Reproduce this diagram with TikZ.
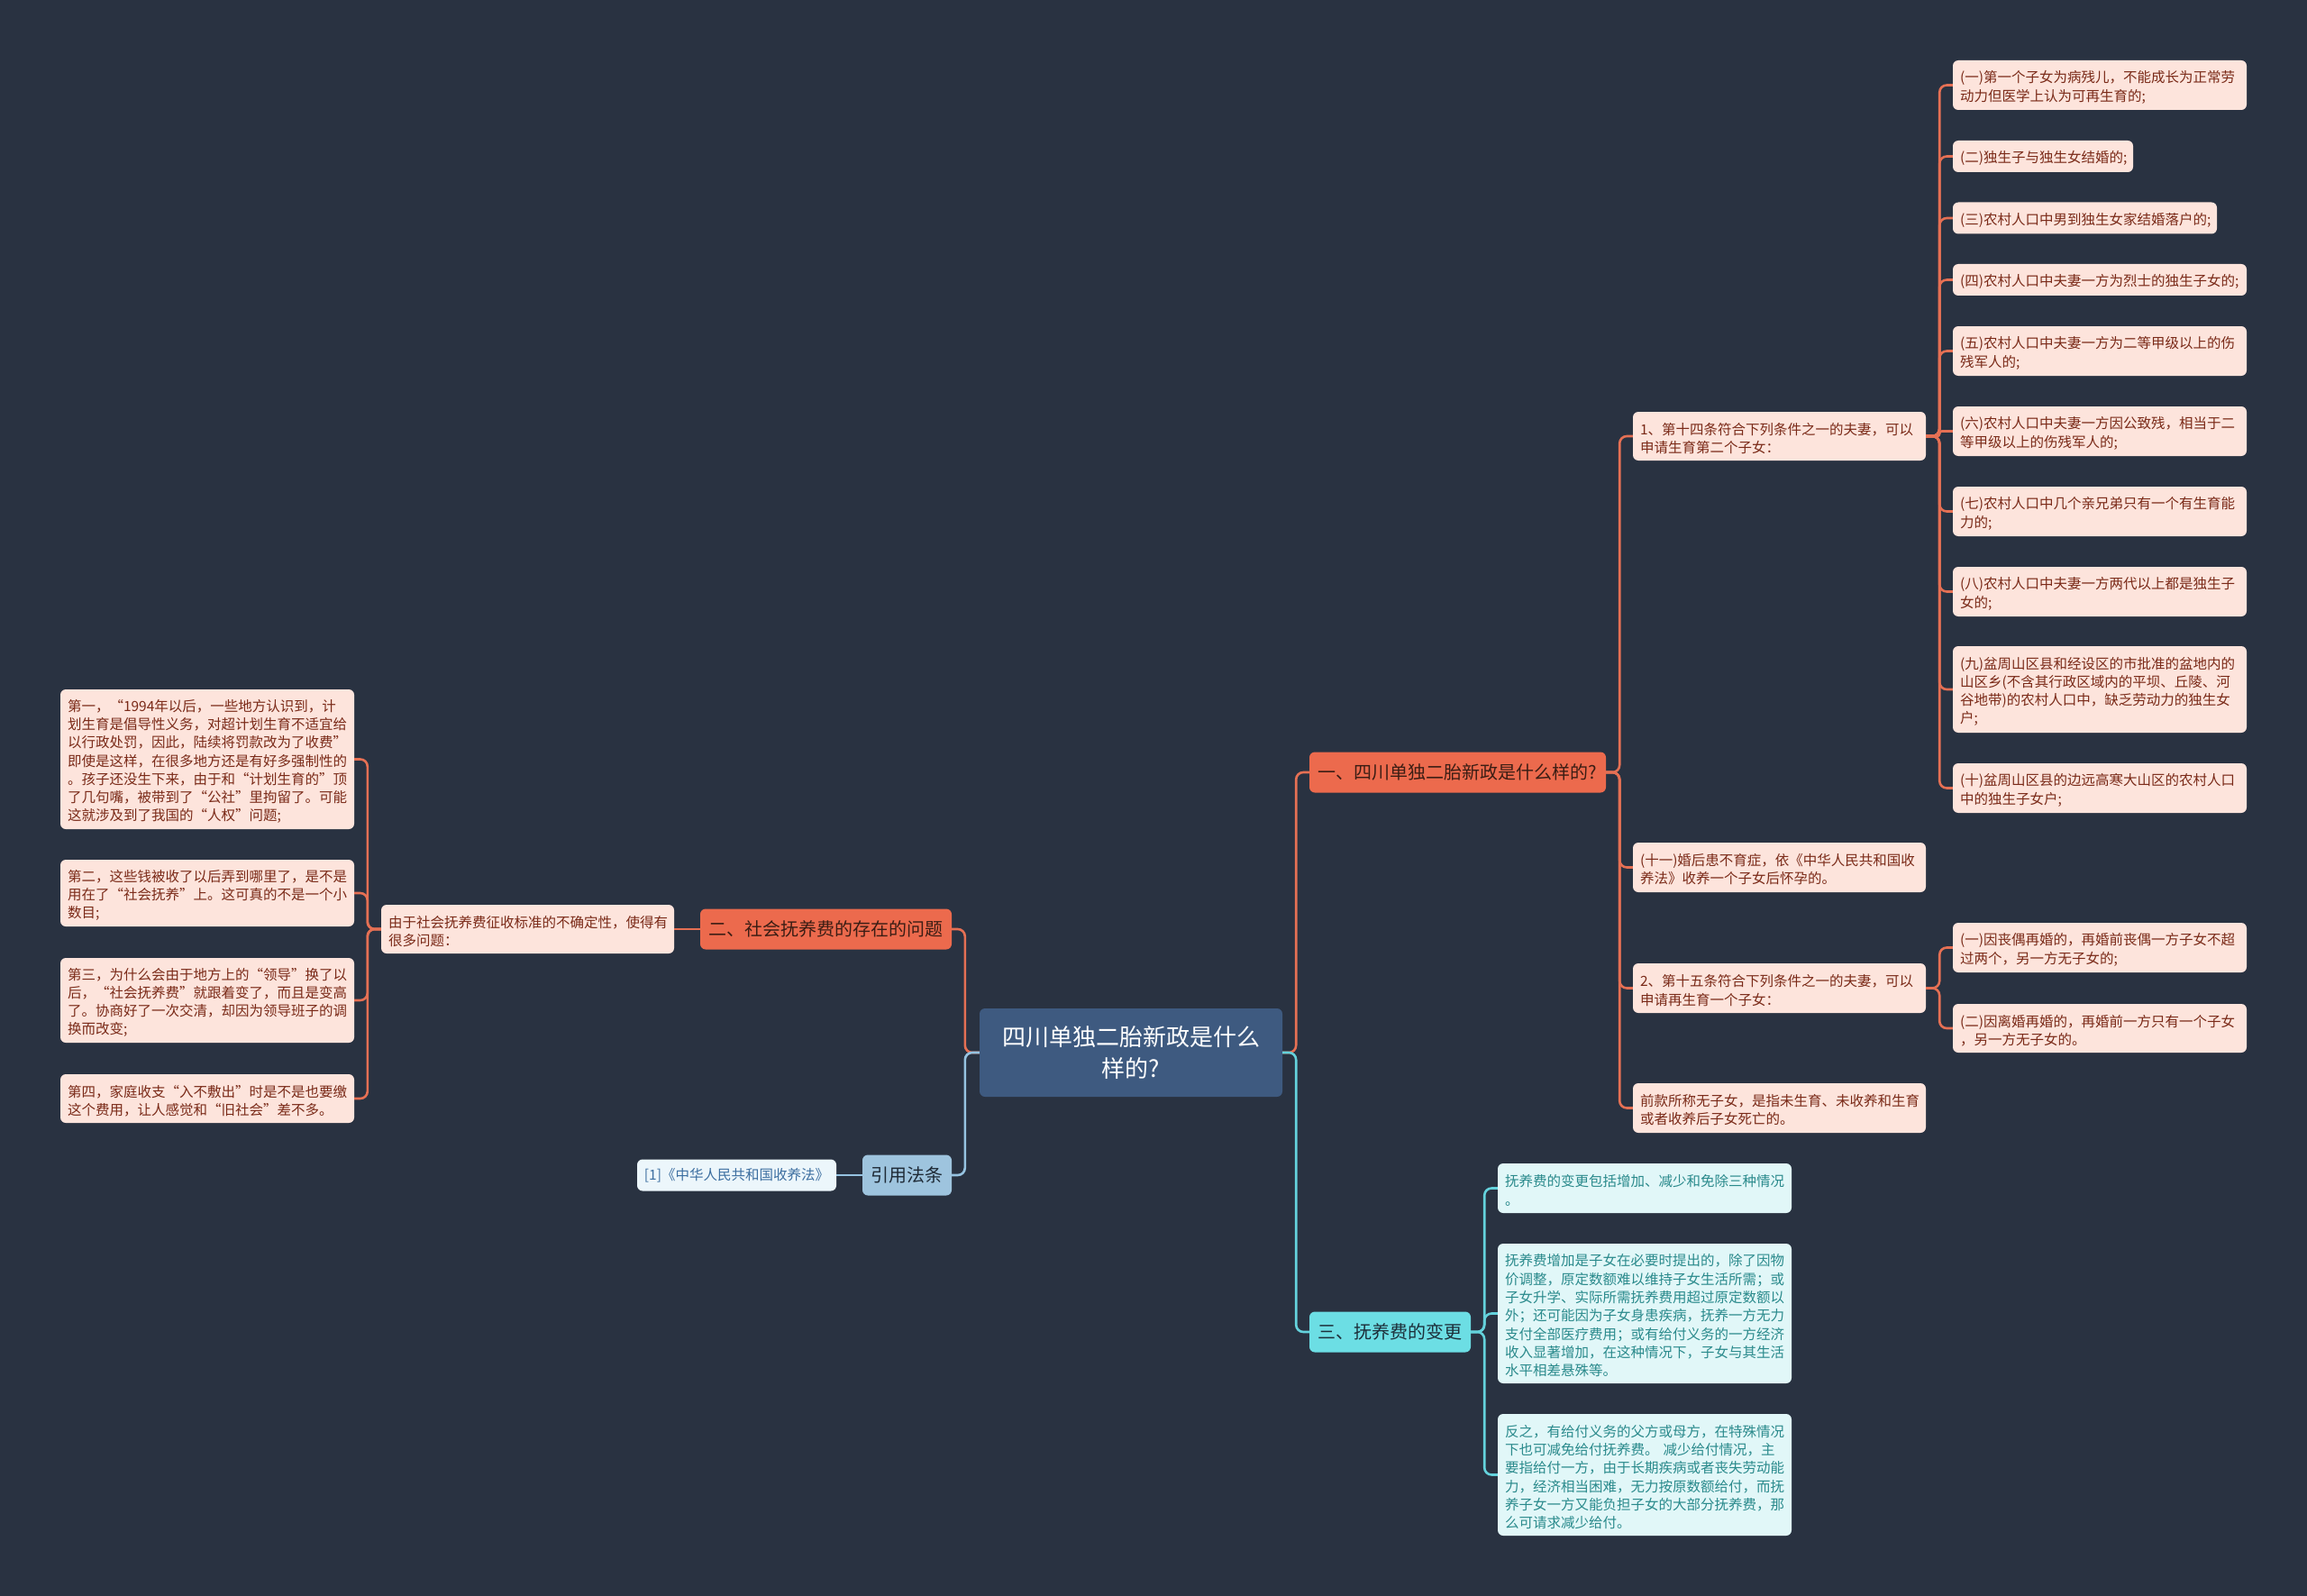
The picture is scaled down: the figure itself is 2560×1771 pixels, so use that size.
\documentclass[tikz,border=0pt]{standalone}
\usepackage{fontspec}
\setmainfont{Noto Sans CJK SC}
\definecolor{bg}{HTML}{293241}
\definecolor{rootc}{HTML}{3E5A80}
\definecolor{obr}{HTML}{EC6A4D}
\definecolor{obrt}{HTML}{3B1D14}
\definecolor{olf}{HTML}{FDE4DC}
\definecolor{olft}{HTML}{7A2A18}
\definecolor{oln}{HTML}{E57054}
\definecolor{cbr}{HTML}{6CDEE4}
\definecolor{cbrt}{HTML}{1D2F3A}
\definecolor{clf}{HTML}{E1F7F8}
\definecolor{clft}{HTML}{2A8A8C}
\definecolor{cln}{HTML}{64D2DC}
\definecolor{bbr}{HTML}{9EC4DE}
\definecolor{bbrt}{HTML}{1E2A36}
\definecolor{blf}{HTML}{ECF6FB}
\definecolor{blft}{HTML}{3C6EA0}
\definecolor{bln}{HTML}{96C3E1}
\tikzset{
  boxbase/.style={rounded corners=6pt, inner xsep=8pt, inner ysep=0pt, anchor=center},
  leaffont/.style={font=\fontsize{15.5}{20.3}\selectfont,
    execute at begin node={\rule{0pt}{18pt}}},
  oleaf/.style={boxbase, leaffont, fill=olf, text=olft, align=left},
  cleaf/.style={boxbase, leaffont, fill=clf, text=clft, align=left},
  bleaf/.style={boxbase, font=\fontsize{15.5}{20.3}\selectfont, fill=blf, text=blft, align=center, inner xsep=0pt},
  branchfont/.style={font=\fontsize{20}{24}\selectfont},
  obranch/.style={boxbase, branchfont, fill=obr, text=obrt, align=center, inner xsep=0pt},
  cbranch/.style={boxbase, branchfont, fill=cbr, text=cbrt, align=center, inner xsep=0pt},
  bbranch/.style={boxbase, branchfont, fill=bbr, text=bbrt, align=center, inner xsep=0pt},
  rootbox/.style={boxbase, fill=rootc, text=white, align=center, inner xsep=0pt,
    font=\fontsize{26}{35}\selectfont},
  oline/.style={draw=oln, line width=2.6pt, rounded corners=8pt},
  cline/.style={draw=cln, line width=2.6pt, rounded corners=8pt},
  bline/.style={draw=bln, line width=2.6pt, rounded corners=8pt},
}
\newcommand\mmconn[4]{\draw[#1] (#2) -- ++(#3,0) |- (#4);}
\begin{document}
\begin{tikzpicture}[x=1pt,y=-1pt]
\useasboundingbox (0,0) rectangle (2560,1771);
\fill[bg] (0,0) rectangle (2560,1771);

% root
\node[rootbox, minimum width=336pt, minimum height=98pt] (root) at (1255,1168) {四川单独二胎新政是什么\\样的?};

% branches
\node[obranch, minimum width=329pt, minimum height=45pt] (b1) at (1617.5,857) {一、四川单独二胎新政是什么样的?};
\node[obranch, minimum width=279pt, minimum height=45pt] (b2) at (916.5,1031) {二、社会抚养费的存在的问题};
\node[cbranch, minimum width=179pt, minimum height=45pt] (b3) at (1542.5,1478) {三、抚养费的变更};
\node[bbranch, minimum width=99pt, minimum height=45pt] (b4) at (1006.5,1304) {引用法条};

% reference leaf
\node[bleaf, minimum width=221pt, minimum height=35pt] (ref) at (817.5,1304) {[1]《中华人民共和国收养法》};

% left side
\node[oleaf, text width=309pt, minimum height=54pt] (m) at (585.5,1031) {由于社会抚养费征收标准的不确定性，使得有\\很多问题：};
\node[oleaf, text width=310pt, minimum height=155pt] (l1) at (230,842.5) {第一，“1994年以后，一些地方认识到，计\\划生育是倡导性义务，对超计划生育不适宜给\\以行政处罚，因此，陆续将罚款改为了收费”\\即使是这样，在很多地方还是有好多强制性的\\。孩子还没生下来，由于和“计划生育的”顶\\了几句嘴，被带到了“公社”里拘留了。可能\\这就涉及到了我国的“人权”问题;};
\node[oleaf, text width=310pt, minimum height=74pt] (l2) at (230,991) {第二，这些钱被收了以后弄到哪里了，是不是\\用在了“社会抚养”上。这可真的不是一个小\\数目;};
\node[oleaf, text width=310pt, minimum height=94pt] (l3) at (230,1110) {第三，为什么会由于地方上的“领导”换了以\\后，“社会抚养费”就跟着变了，而且是变高\\了。协商好了一次交清，却因为领导班子的调\\换而改变;};
\node[oleaf, text width=310pt, minimum height=54pt] (l4) at (230,1219) {第四，家庭收支“入不敷出”时是不是也要缴\\这个费用，让人感觉和“旧社会”差不多。};

% right level 2
\node[oleaf, text width=309pt, minimum height=54pt] (s1) at (1974.5,484) {1、第十四条符合下列条件之一的夫妻，可以\\申请生育第二个子女：};
\node[oleaf, text width=309pt, minimum height=55pt] (s2) at (1974.5,962.5) {(十一)婚后患不育症，依《中华人民共和国收\\养法》收养一个子女后怀孕的。};
\node[oleaf, text width=309pt, minimum height=55pt] (s3) at (1974.5,1096.5) {2、第十五条符合下列条件之一的夫妻，可以\\申请再生育一个子女：};
\node[oleaf, text width=309pt, minimum height=55pt] (s4) at (1974.5,1229.5) {前款所称无子女，是指未生育、未收养和生育\\或者收养后子女死亡的。};

% right leaves
\node[oleaf, text width=310pt, minimum height=55pt] (r1) at (2330,94.5) {(一)第一个子女为病残儿，不能成长为正常劳\\动力但医学上认为可再生育的;};
\node[oleaf, text width=184pt, minimum height=35pt] (r2) at (2267,173.5) {(二)独生子与独生女结婚的;};
\node[oleaf, text width=277pt, minimum height=35pt] (r3) at (2313.5,242) {(三)农村人口中男到独生女家结婚落户的;};
\node[oleaf, text width=310pt, minimum height=35pt] (r4) at (2330,310.5) {(四)农村人口中夫妻一方为烈士的独生子女的;};
\node[oleaf, text width=310pt, minimum height=55pt] (r5) at (2330,389.5) {(五)农村人口中夫妻一方为二等甲级以上的伤\\残军人的;};
\node[oleaf, text width=310pt, minimum height=55pt] (r6) at (2330,478.5) {(六)农村人口中夫妻一方因公致残，相当于二\\等甲级以上的伤残军人的;};
\node[oleaf, text width=310pt, minimum height=55pt] (r7) at (2330,567.5) {(七)农村人口中几个亲兄弟只有一个有生育能\\力的;};
\node[oleaf, text width=310pt, minimum height=55pt] (r8) at (2330,656.5) {(八)农村人口中夫妻一方两代以上都是独生子\\女的;};
\node[oleaf, text width=310pt, minimum height=96pt] (r9) at (2330,765) {(九)盆周山区县和经设区的市批准的盆地内的\\山区乡(不含其行政区域内的平坝、丘陵、河\\谷地带)的农村人口中，缺乏劳动力的独生女\\户;};
\node[oleaf, text width=310pt, minimum height=55pt] (r10) at (2330,874.5) {(十)盆周山区县的边远高寒大山区的农村人口\\中的独生子女户;};
\node[oleaf, text width=310pt, minimum height=55pt] (t1) at (2330,1051.5) {(一)因丧偶再婚的，再婚前丧偶一方子女不超\\过两个，另一方无子女的;};
\node[oleaf, text width=310pt, minimum height=54pt] (t2) at (2330,1141) {(二)因离婚再婚的，再婚前一方只有一个子女\\，另一方无子女的。};

% cyan leaves
\node[cleaf, text width=310pt, minimum height=55pt] (c1) at (1825,1318.5) {抚养费的变更包括增加、减少和免除三种情况\\。};
\node[cleaf, text width=310pt, minimum height=155pt] (c2) at (1825,1457.5) {抚养费增加是子女在必要时提出的，除了因物\\价调整，原定数额难以维持子女生活所需；或\\子女升学、实际所需抚养费用超过原定数额以\\外；还可能因为子女身患疾病，抚养一方无力\\支付全部医疗费用；或有给付义务的一方经济\\收入显著增加，在这种情况下，子女与其生活\\水平相差悬殊等。};
\node[cleaf, text width=310pt, minimum height=135pt] (c3) at (1825,1636.5) {反之，有给付义务的父方或母方，在特殊情况\\下也可减免给付抚养费。 减少给付情况，主\\要指给付一方，由于长期疾病或者丧失劳动能\\力，经济相当困难，无力按原数额给付，而抚\\养子女一方又能负担子女的大部分抚养费，那\\么可请求减少给付。};

% connectors
\mmconn{oline}{root.east}{15}{b1.west}
\mmconn{cline}{root.east}{15}{b3.west}
\mmconn{oline}{root.west}{-16}{b2.east}
\mmconn{bline}{root.west}{-16}{b4.east}
\draw[oline] (b2.west) -- (m.east);
\draw[bline] (b4.west) -- (ref.east);
\foreach \n in {l1,l2,l3,l4}{\mmconn{oline}{m.west}{-15}{\n.east}}
\foreach \n in {s1,s2,s3,s4}{\mmconn{oline}{b1.east}{15}{\n.west}}
\foreach \n in {r1,r2,r3,r4,r5,r7,r8,r9,r10}{\mmconn{oline}{s1.east}{15}{\n.west}}
\mmconn{oline,rounded corners=2.5pt}{s1.east}{15}{r6.west}
\foreach \n in {t1,t2}{\mmconn{oline}{s3.east}{15}{\n.west}}
\foreach \n in {c1,c2,c3}{\mmconn{cline}{b3.east}{15}{\n.west}}
\end{tikzpicture}
\end{document}
